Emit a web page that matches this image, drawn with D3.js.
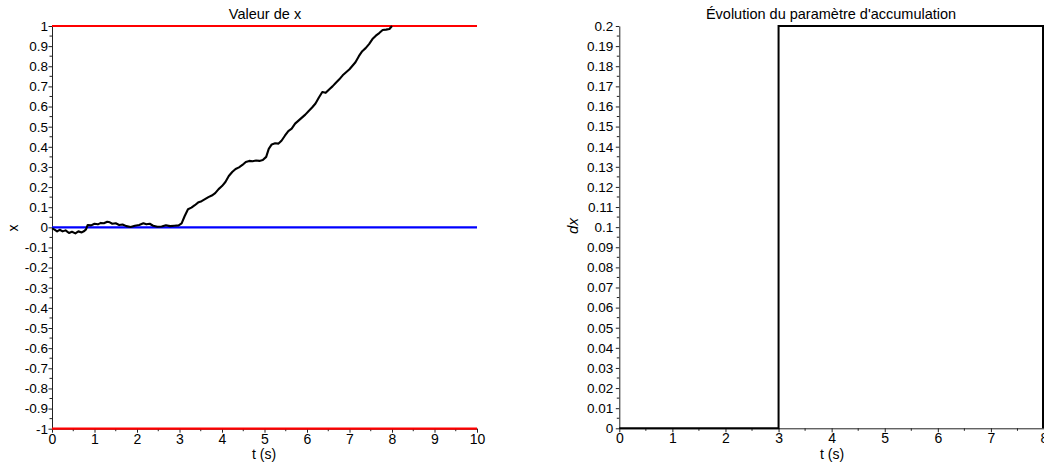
<!DOCTYPE html>
<html><head><meta charset="utf-8">
<script src="https://cdn.jsdelivr.net/npm/d3@7"></script>
<style>
body{margin:0;background:#fff;}
text{font-family:"Liberation Sans",Arial,sans-serif;fill:#000;}
</style></head>
<body><svg id="c" width="1044" height="466"></svg>
<script>
// ---- data: left plot "Valeur de x"
const tX = [0.00,0.05,0.12,0.18,0.25,0.32,0.40,0.47,0.55,0.62,0.70,0.76,0.80,0.84,0.92,1.00,1.08,1.15,1.22,1.30,1.36,1.42,1.50,1.58,1.66,1.75,1.85,1.95,2.05,2.15,2.22,2.30,2.38,2.48,2.58,2.68,2.78,2.88,2.98,3.05,3.12,3.20,3.28,3.36,3.45,3.52,3.60,3.68,3.76,3.84,3.92,4.00,4.08,4.16,4.24,4.32,4.40,4.48,4.56,4.64,4.72,4.80,4.88,4.96,5.04,5.10,5.17,5.25,5.33,5.40,5.48,5.56,5.64,5.72,5.80,5.88,5.96,6.04,6.12,6.20,6.28,6.36,6.44,6.52,6.60,6.68,6.76,6.84,6.92,7.00,7.06,7.14,7.22,7.30,7.38,7.46,7.54,7.62,7.70,7.78,7.86,7.94,8.00];
const xVal = [-0.005,-0.01,-0.02,-0.012,-0.02,-0.015,-0.028,-0.022,-0.03,-0.02,-0.025,-0.018,-0.01,0.012,0.01,0.018,0.015,0.022,0.02,0.028,0.025,0.018,0.02,0.012,0.014,0.006,0.002,0.008,0.012,0.02,0.015,0.018,0.008,0.003,0.004,0.01,0.006,0.008,0.01,0.02,0.055,0.09,0.098,0.11,0.125,0.13,0.14,0.15,0.158,0.17,0.19,0.205,0.225,0.255,0.275,0.29,0.298,0.31,0.325,0.33,0.328,0.332,0.33,0.334,0.35,0.39,0.412,0.418,0.416,0.43,0.455,0.478,0.49,0.515,0.53,0.545,0.56,0.578,0.595,0.615,0.645,0.672,0.668,0.685,0.70,0.718,0.735,0.755,0.77,0.785,0.80,0.82,0.85,0.875,0.89,0.91,0.935,0.952,0.965,0.98,0.982,0.985,1.0];
const upperBound = 1, lowerBound = -1, zeroLine = 0;
const leftXTicks = [0,1,2,3,4,5,6,7,8,9,10];
const leftYTicks = [-1,-0.9,-0.8,-0.7,-0.6,-0.5,-0.4,-0.3,-0.2,-0.1,0,0.1,0.2,0.3,0.4,0.5,0.6,0.7,0.8,0.9,1];
// ---- data: right plot "Évolution du paramètre d'accumulation"
const tDx = [0, 3, 8, 8];
const dxVal = [0, 0.2, 0.2, 0];
const rightXTicks = [0,1,2,3,4,5,6,7,8];
const rightYTicks = [0,0.01,0.02,0.03,0.04,0.05,0.06,0.07,0.08,0.09,0.1,0.11,0.12,0.13,0.14,0.15,0.16,0.17,0.18,0.19,0.2];

const svg = d3.select("#c");

function drawAxes(g, x, y, xTicks, yTicks, xMinor, yMinor, yFmt, yPad){
  const [x0,x1] = x.range(), [y0,y1] = y.range();
  g.append("g").selectAll("line").data(xMinor).join("line")
    .attr("x1",d=>x(d)).attr("x2",d=>x(d)).attr("y1",y0).attr("y2",y0+2.5)
    .attr("stroke","#222").attr("stroke-width",1);
  g.append("g").selectAll("line").data(yMinor).join("line")
    .attr("x1",x0).attr("x2",x0-2.5).attr("y1",d=>y(d)).attr("y2",d=>y(d))
    .attr("stroke","#222").attr("stroke-width",1);
  const xa = g.append("g").attr("transform",`translate(0,${y0})`)
    .call(d3.axisBottom(x).tickValues(xTicks).tickSize(4).tickSizeOuter(0).tickPadding(1).tickFormat(d3.format("d")));
  xa.selectAll("text").style("font-size","14px").attr("font-family","Liberation Sans, Arial, sans-serif");
  const ya = g.append("g").attr("transform",`translate(${x0},0)`)
    .call(d3.axisLeft(y).tickValues(yTicks).tickSize(3.5).tickSizeOuter(0).tickPadding(yPad).tickFormat(yFmt));
  ya.selectAll("text").style("font-size","13.5px").attr("font-family","Liberation Sans, Arial, sans-serif");
  [xa,ya].forEach(a=>{a.selectAll("path,line").attr("stroke","#222");});
}
const fmt = d => d===0 ? "0" : String(+d.toFixed(2)).replace("\u2212","-");

// ---- left plot
{
  const x = d3.scaleLinear().domain([0,10]).range([52,477]);
  const y = d3.scaleLinear().domain([-1,1]).range([428.7,26]);
  const g = svg.append("g");
  const xMinor = d3.range(0.5,10,1);
  const yMinor = d3.range(-0.95,1,0.1);
  drawAxes(g,x,y,leftXTicks,leftYTicks,xMinor,yMinor,fmt,0.5);
  [[upperBound,"#ff0000"],[lowerBound,"#ff0000"],[zeroLine,"#0000ff"]].forEach(([v,c])=>{
    g.append("line").attr("x1",x(0)).attr("x2",x(10)).attr("y1",y(v)).attr("y2",y(v))
      .attr("stroke",c).attr("stroke-width",2.2);
  });
  const pts = tX.map((t,i)=>[t,xVal[i]]);
  g.append("path").datum(pts)
    .attr("d",d3.line().x(d=>x(d[0])).y(d=>y(d[1])))
    .attr("fill","none").attr("stroke","#000").attr("stroke-width",2.1).attr("stroke-linejoin","round");
  g.append("text").attr("x",265).attr("y",19).attr("text-anchor","middle").style("font-size","14.5px").text("Valeur de x");
  g.append("text").attr("x",264).attr("y",459).attr("text-anchor","middle").style("font-size","14px").text("t (s)");
  g.append("text").attr("transform","translate(18,228) rotate(-90)").attr("text-anchor","middle").style("font-size","14px").text("x");
}
// ---- right plot
{
  const x = d3.scaleLinear().domain([0,8]).range([619.3,1044]);
  const y = d3.scaleLinear().domain([0,0.2]).range([428.3,26]);
  const g = svg.append("g");
  const xMinor = d3.range(0.5,8,1);
  const yMinor = d3.range(0.005,0.2,0.01);
  drawAxes(g,x,y,rightXTicks,rightYTicks,xMinor,yMinor,fmt,2.5);
  const pts = tDx.map((t,i)=>[t,dxVal[i]]);
  g.append("path").datum(pts)
    .attr("d",d3.line().curve(d3.curveStepAfter).x(d=>Math.min(x(d[0]),1043)).y(d=>y(d[1])))
    .attr("fill","none").attr("stroke","#000").attr("stroke-width",2);
  g.append("text").attr("x",831).attr("y",19).attr("text-anchor","middle").style("font-size","14.5px").text("Évolution du paramètre d'accumulation");
  g.append("text").attr("x",832).attr("y",459).attr("text-anchor","middle").style("font-size","14px").text("t (s)");
  g.append("text").attr("transform","translate(578,226) rotate(-90)").attr("text-anchor","middle")
    .style("font-size","15px").style("font-style","italic").attr("font-family","Liberation Serif, serif").text("dx");
}
</script></body></html>
